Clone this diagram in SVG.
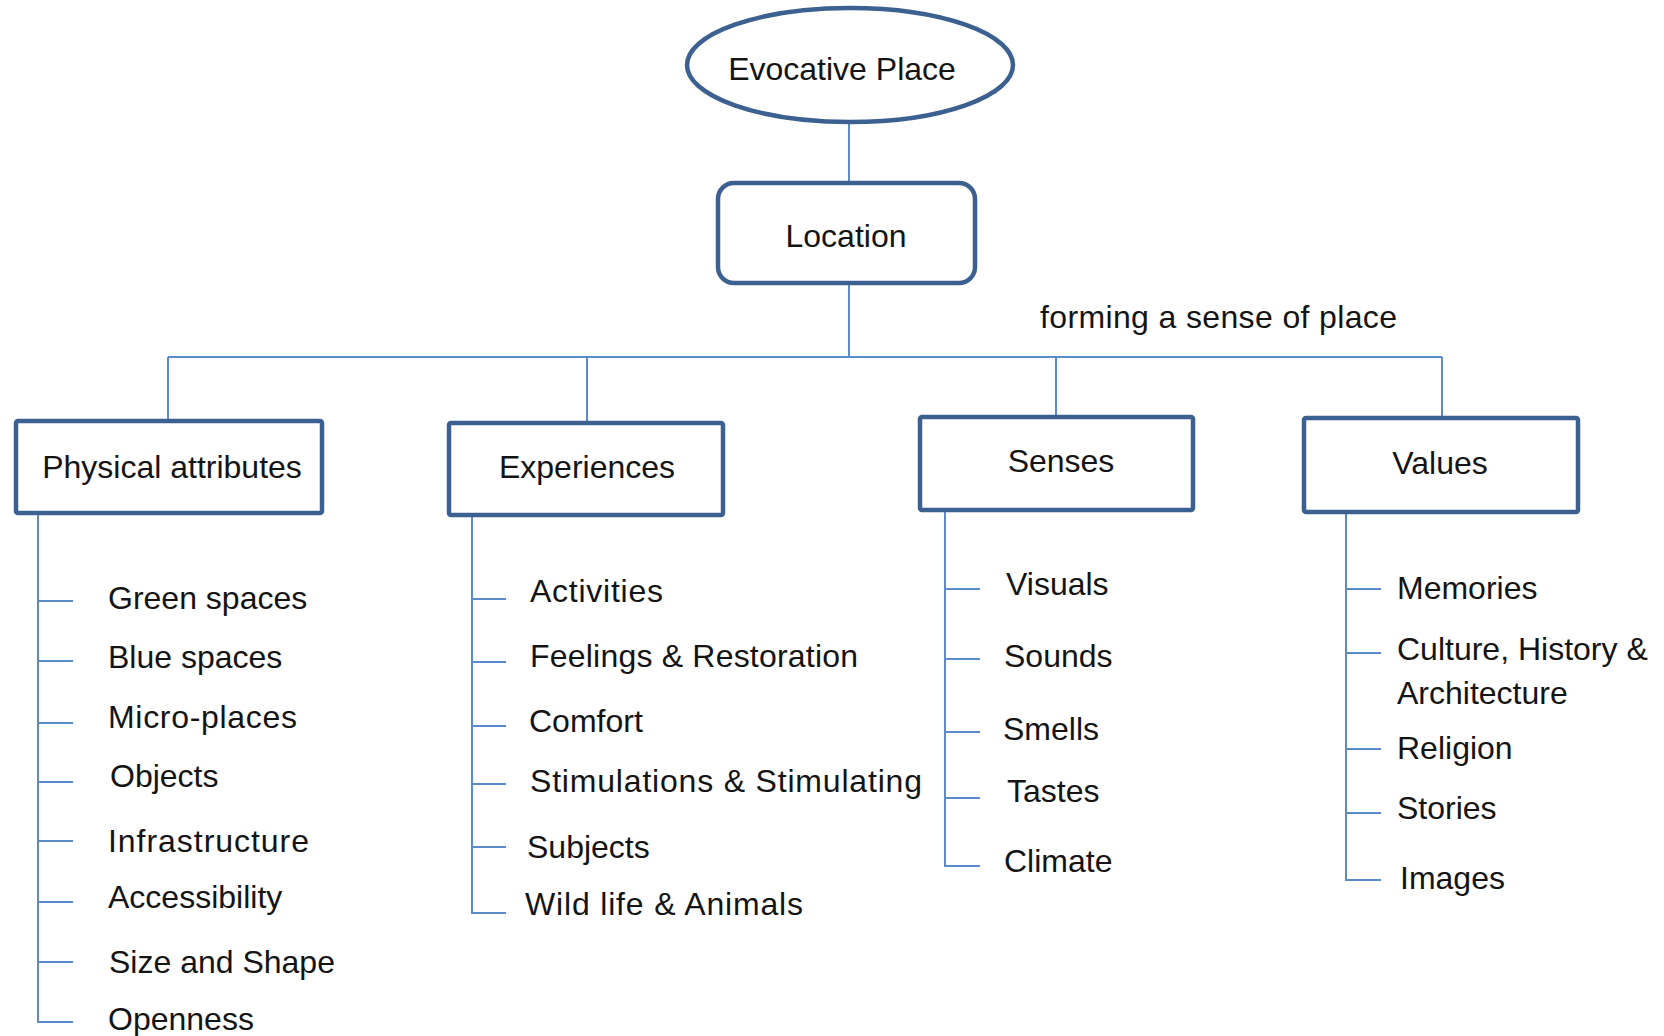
<svg xmlns="http://www.w3.org/2000/svg" width="1664" height="1036" viewBox="0 0 1664 1036">
  <style>
    .node { fill: #ffffff; stroke: #3c6090; stroke-width: 4.5; }
    .link { fill: none; stroke: #5a8bcb; stroke-width: 2; }
    text { font-family: "Liberation Sans", Arial, sans-serif; font-size: 32px; fill: #141414; }
    .mid { text-anchor: middle; }
  </style>
  <rect width="1664" height="1036" fill="#ffffff"/>

  <!-- connectors -->
  <g id="connectors" class="link">
    <path d="M849 122 V183"/>
    <path d="M849 283 V357"/>
    <path d="M168 357 H1442"/>
    <path d="M168 357 V421"/>
    <path d="M587 357 V423"/>
    <path d="M1056 357 V417"/>
    <path d="M1442 357 V418"/>
    <!-- physical attributes list -->
    <path d="M38 513 V1022 H73"/>
    <path d="M38 601 H73 M38 661 H73 M38 723 H73 M38 782 H73 M38 841 H73 M38 902 H73 M38 962 H73"/>
    <!-- experiences list -->
    <path d="M472 515 V913 H506"/>
    <path d="M472 599 H506 M472 662 H506 M472 726 H506 M472 784 H506 M472 847 H506"/>
    <!-- senses list -->
    <path d="M945 510 V866 H980"/>
    <path d="M945 589 H980 M945 659 H980 M945 732 H980 M945 798 H980"/>
    <!-- values list -->
    <path d="M1346 512 V880 H1381"/>
    <path d="M1346 589 H1381 M1346 653 H1381 M1346 749 H1381 M1346 813 H1381"/>
  </g>

  <g id="evocative-place">
    <ellipse class="node" cx="850" cy="65" rx="163" ry="57"/>
    <text class="mid" x="842" y="80">Evocative Place</text>
  </g>

  <g id="location">
    <rect class="node" x="718" y="183" width="257" height="100" rx="16"/>
    <text class="mid" x="846" y="247">Location</text>
  </g>

  <g id="sense-of-place-label">
    <text x="1040" y="328" textLength="357">forming a sense of place</text>
  </g>

  <g id="physical-attributes">
    <rect class="node" x="16" y="421" width="306" height="92" rx="2"/>
    <text class="mid" x="172" y="478">Physical attributes</text>
    <text x="108" y="609">Green spaces</text>
    <text x="108" y="668">Blue spaces</text>
    <text x="108" y="728" textLength="189">Micro-places</text>
    <text x="110" y="787">Objects</text>
    <text x="108" y="852" textLength="201">Infrastructure</text>
    <text x="108" y="908">Accessibility</text>
    <text x="109" y="973">Size and Shape</text>
    <text x="108" y="1030">Openness</text>
  </g>

  <g id="experiences">
    <rect class="node" x="449" y="423" width="274" height="92" rx="2"/>
    <text class="mid" x="587" y="478">Experiences</text>
    <text x="530" y="602" textLength="133">Activities</text>
    <text x="530" y="667" textLength="328">Feelings &amp; Restoration</text>
    <text x="529" y="732">Comfort</text>
    <text x="530" y="792" textLength="392">Stimulations &amp; Stimulating</text>
    <text x="527" y="858">Subjects</text>
    <text x="525" y="915" textLength="278">Wild life &amp; Animals</text>
  </g>

  <g id="senses">
    <rect class="node" x="920" y="417" width="273" height="93" rx="2"/>
    <text class="mid" x="1061" y="472">Senses</text>
    <text x="1006" y="595">Visuals</text>
    <text x="1004" y="667">Sounds</text>
    <text x="1003" y="740">Smells</text>
    <text x="1007" y="802">Tastes</text>
    <text x="1004" y="872">Climate</text>
  </g>

  <g id="values">
    <rect class="node" x="1304" y="418" width="274" height="94" rx="2"/>
    <text class="mid" x="1440" y="474">Values</text>
    <text x="1397" y="599">Memories</text>
    <text x="1397" y="660">Culture, History &amp;</text>
    <text x="1397" y="704">Architecture</text>
    <text x="1397" y="759">Religion</text>
    <text x="1397" y="819">Stories</text>
    <text x="1400" y="889">Images</text>
  </g>
</svg>
